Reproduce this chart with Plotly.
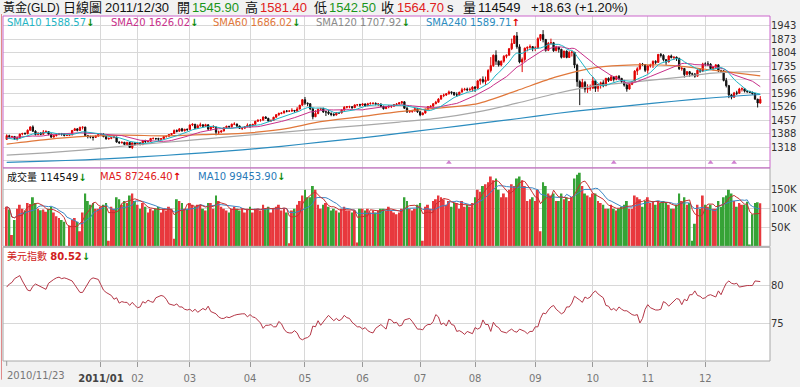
import plotly.graph_objects as go
import pandas as pd

# ---------------- DATA (gold, daily, 2010/11/23 - 2011/12/30, all weekdays) ----------------
pre_close = [1340, 1325, 1344, 1357, 1352, 1356, 1337, 1383, 1394, 1404,
             1393, 1400, 1408, 1367, 1366, 1338, 1338, 1353, 1352, 1359]

open_ = [
    1359, 1378, 1373, 1374, 1363, 1366,
    1386, 1389, 1388, 1406, 1423, 1401, 1384, 1391, 1385, 1397, 1399, 1386, 1371, 1378, 1384, 1388, 1387, 1379, 1380, 1382, 1405, 1413, 1405,
    1421, 1422, 1379, 1373, 1371, 1369, 1376, 1384, 1386, 1373, 1361, 1364, 1368, 1371, 1345, 1342, 1344, 1333, 1343, 1317, 1341,
    1333, 1340, 1333, 1353, 1348, 1349, 1364, 1364, 1363, 1360, 1362, 1374, 1375, 1384, 1389, 1404, 1401, 1413, 1403, 1411,
    1410, 1433, 1437, 1416, 1429, 1434, 1427, 1434, 1412, 1421, 1422, 1396, 1397, 1402, 1419, 1426, 1424, 1437, 1438, 1428, 1416, 1417, 1424,
    1432, 1429, 1437, 1452, 1458, 1458, 1474, 1467, 1453, 1457, 1473, 1486, 1492, 1495, 1505, 1504, 1505, 1508, 1505, 1515, 1535,
    1563, 1545, 1542, 1516, 1475, 1492, 1514, 1517, 1500, 1500, 1492, 1487, 1484, 1496, 1495, 1510, 1524, 1527, 1527, 1522, 1536, 1537,
    1536, 1541, 1532, 1542, 1544, 1544, 1540, 1541, 1529, 1517, 1526, 1530, 1530, 1538, 1541, 1547, 1552, 1519, 1500, 1502, 1507, 1517,
    1501, 1485, 1494, 1514, 1527, 1530, 1542, 1550, 1566, 1584, 1587, 1593, 1603, 1600, 1588, 1588, 1602, 1614, 1617, 1614, 1616,
    1628, 1622, 1660, 1667, 1656, 1663, 1713, 1738, 1792, 1761, 1741, 1761, 1786, 1792, 1825, 1852, 1891, 1835, 1757, 1770, 1828, 1833, 1836,
    1826, 1829, 1877, 1898, 1873, 1817, 1853, 1856, 1815, 1833, 1822, 1781, 1813, 1780, 1807, 1807, 1741, 1656, 1627, 1652, 1617, 1622,
    1622, 1660, 1621, 1641, 1650, 1635, 1673, 1662, 1680, 1668, 1683, 1673, 1656, 1638, 1618, 1642, 1656, 1710, 1722, 1746, 1744,
    1714, 1737, 1741, 1760, 1755, 1796, 1791, 1769, 1757, 1788, 1780, 1782, 1776, 1722, 1724, 1692, 1707, 1696, 1695, 1684, 1715, 1711,
    1747, 1746, 1746, 1723, 1732, 1742, 1712, 1711, 1662, 1635, 1588, 1576, 1598, 1596, 1618, 1619, 1607, 1606, 1600, 1595, 1566, 1545.9,
]
high = [
    1385, 1383, 1377, 1376, 1374, 1388,
    1393, 1395, 1410, 1426, 1431, 1406, 1395, 1396, 1407, 1406, 1400, 1389, 1383, 1390, 1392, 1392, 1390, 1382, 1387, 1407, 1418, 1416, 1424,
    1425, 1424, 1382, 1378, 1375, 1380, 1387, 1392, 1390, 1378, 1368, 1371, 1375, 1372, 1350, 1348, 1346, 1347, 1345, 1343, 1343,
    1345, 1345, 1356, 1357, 1354, 1366, 1368, 1366, 1367, 1366, 1376, 1378, 1386, 1391, 1410, 1410, 1416, 1418, 1413, 1414,
    1435, 1441, 1438, 1436, 1445, 1436, 1439, 1436, 1425, 1432, 1425, 1404, 1406, 1421, 1430, 1429, 1440, 1447, 1440, 1430, 1422, 1427, 1441,
    1438, 1438, 1454, 1461, 1463, 1477, 1478, 1470, 1460, 1475, 1488, 1497, 1498, 1506, 1509, 1508, 1519, 1510, 1525, 1536, 1566,
    1577, 1549, 1546, 1519, 1509, 1517, 1521, 1522, 1506, 1510, 1498, 1494, 1499, 1500, 1513, 1530, 1530, 1532, 1530, 1539, 1540, 1542,
    1544, 1544, 1547, 1550, 1550, 1549, 1545, 1543, 1532, 1530, 1534, 1535, 1540, 1546, 1550, 1556, 1555, 1525, 1510, 1511, 1520, 1518,
    1503, 1498, 1517, 1530, 1533, 1545, 1557, 1571, 1588, 1594, 1597, 1610, 1605, 1603, 1601, 1603, 1624, 1624, 1625, 1625, 1632,
    1633, 1662, 1672, 1683, 1682, 1720, 1782, 1795, 1817, 1765, 1764, 1792, 1795, 1829, 1877, 1894, 1911, 1848, 1780, 1831, 1835, 1847, 1839,
    1838, 1884, 1900, 1921, 1875, 1860, 1877, 1860, 1840, 1835, 1825, 1815, 1816, 1812, 1815, 1808, 1748, 1663, 1670, 1660, 1642, 1641,
    1680, 1665, 1643, 1656, 1663, 1675, 1678, 1690, 1684, 1686, 1690, 1674, 1665, 1645, 1645, 1660, 1715, 1730, 1752, 1752, 1746,
    1740, 1748, 1765, 1766, 1798, 1803, 1797, 1772, 1791, 1795, 1785, 1785, 1778, 1731, 1726, 1710, 1710, 1702, 1700, 1720, 1721, 1753,
    1755, 1761, 1751, 1735, 1746, 1745, 1717, 1716, 1675, 1639, 1592, 1603, 1609, 1624, 1626, 1623, 1611, 1608, 1605, 1597, 1567, 1581.4,
]
low = [
    1357, 1368, 1370, 1357, 1353, 1362,
    1380, 1383, 1385, 1403, 1398, 1379, 1380, 1380, 1384, 1393, 1380, 1366, 1368, 1374, 1380, 1378, 1374, 1376, 1376, 1380, 1402, 1400, 1403,
    1410, 1375, 1364, 1364, 1353, 1366, 1372, 1380, 1370, 1358, 1358, 1360, 1365, 1342, 1335, 1337, 1329, 1330, 1315, 1309, 1327,
    1330, 1328, 1329, 1340, 1342, 1346, 1358, 1355, 1351, 1356, 1360, 1368, 1372, 1380, 1387, 1395, 1398, 1398, 1400, 1402,
    1408, 1427, 1413, 1414, 1424, 1420, 1424, 1406, 1404, 1418, 1380, 1384, 1393, 1400, 1416, 1418, 1420, 1432, 1422, 1413, 1407, 1412, 1422,
    1418, 1425, 1432, 1450, 1450, 1455, 1464, 1448, 1450, 1455, 1470, 1480, 1488, 1492, 1498, 1501, 1500, 1497, 1500, 1513, 1532,
    1536, 1530, 1509, 1462, 1474, 1488, 1510, 1495, 1479, 1485, 1478, 1478, 1482, 1490, 1492, 1506, 1518, 1519, 1516, 1520, 1531, 1527,
    1530, 1526, 1530, 1538, 1538, 1534, 1530, 1525, 1512, 1515, 1519, 1520, 1526, 1533, 1538, 1540, 1515, 1495, 1496, 1496, 1500, 1495,
    1478, 1484, 1492, 1511, 1521, 1522, 1540, 1548, 1563, 1576, 1582, 1590, 1590, 1583, 1577, 1585, 1600, 1610, 1606, 1608, 1605,
    1603, 1618, 1640, 1647, 1639, 1660, 1703, 1732, 1742, 1733, 1735, 1753, 1776, 1790, 1818, 1850, 1825, 1750, 1705, 1758, 1812, 1825, 1812,
    1813, 1825, 1865, 1858, 1810, 1813, 1846, 1809, 1812, 1805, 1775, 1780, 1776, 1778, 1785, 1725, 1630, 1535, 1620, 1600, 1598, 1609,
    1620, 1603, 1604, 1620, 1627, 1633, 1654, 1660, 1656, 1663, 1665, 1649, 1630, 1604, 1615, 1638, 1654, 1690, 1715, 1737, 1705,
    1697, 1728, 1726, 1745, 1752, 1780, 1760, 1742, 1755, 1775, 1767, 1762, 1716, 1712, 1677, 1688, 1681, 1684, 1676, 1682, 1701, 1705,
    1735, 1736, 1716, 1714, 1722, 1705, 1702, 1657, 1626, 1571, 1565, 1572, 1587, 1594, 1605, 1600, 1597, 1597, 1588, 1562, 1523, 1542.5,
]
close = [
    1378, 1373, 1374, 1363, 1366, 1386,
    1389, 1388, 1406, 1423, 1401, 1384, 1391, 1385, 1397, 1399, 1386, 1371, 1378, 1384, 1388, 1387, 1379, 1380, 1382, 1405, 1413, 1405, 1421,
    1422, 1379, 1373, 1371, 1369, 1376, 1384, 1386, 1373, 1361, 1364, 1368, 1371, 1345, 1342, 1344, 1333, 1343, 1317, 1341, 1333,
    1340, 1333, 1353, 1348, 1349, 1364, 1364, 1363, 1360, 1362, 1374, 1375, 1384, 1389, 1404, 1401, 1413, 1403, 1411, 1410,
    1433, 1437, 1416, 1429, 1434, 1427, 1434, 1412, 1421, 1422, 1396, 1397, 1402, 1419, 1426, 1424, 1437, 1438, 1428, 1416, 1417, 1424, 1432,
    1429, 1437, 1452, 1458, 1458, 1474, 1467, 1453, 1457, 1473, 1486, 1492, 1495, 1505, 1504, 1505, 1508, 1505, 1515, 1535, 1563,
    1545, 1542, 1516, 1475, 1492, 1514, 1517, 1500, 1500, 1492, 1487, 1484, 1496, 1495, 1510, 1524, 1527, 1527, 1522, 1536, 1537, 1536,
    1541, 1532, 1542, 1544, 1544, 1540, 1541, 1529, 1517, 1526, 1530, 1530, 1538, 1541, 1547, 1552, 1519, 1500, 1502, 1507, 1517, 1501,
    1485, 1494, 1514, 1527, 1530, 1542, 1550, 1566, 1584, 1587, 1593, 1603, 1600, 1588, 1588, 1602, 1614, 1617, 1614, 1616, 1628,
    1622, 1660, 1667, 1656, 1663, 1713, 1738, 1792, 1761, 1741, 1761, 1786, 1792, 1825, 1852, 1891, 1835, 1757, 1770, 1828, 1833, 1836, 1826,
    1829, 1877, 1898, 1873, 1817, 1853, 1856, 1815, 1833, 1822, 1781, 1813, 1780, 1807, 1807, 1741, 1656, 1627, 1652, 1617, 1622, 1622,
    1660, 1621, 1641, 1650, 1635, 1673, 1662, 1680, 1668, 1683, 1673, 1656, 1638, 1618, 1642, 1656, 1710, 1722, 1746, 1744, 1714,
    1737, 1741, 1760, 1755, 1796, 1791, 1769, 1757, 1788, 1780, 1782, 1776, 1722, 1724, 1692, 1707, 1696, 1695, 1684, 1715, 1711, 1747,
    1746, 1746, 1723, 1732, 1742, 1712, 1711, 1662, 1635, 1588, 1576, 1598, 1596, 1618, 1619, 1607, 1606, 1600, 1595, 1566, 1546.07, 1564.7,
]
volume_k = [
    105, 98, 30, 70, 100, 110,
    100, 95, 115, 112, 130, 115, 100, 96, 98, 92, 100, 105, 90, 80, 75, 70, 65, 0, 55, 70, 75, 65, 40,
    90, 140, 120, 110, 115, 100, 100, 105, 110, 115, 15, 105, 100, 130, 125, 110, 120, 115, 135, 140, 120,
    110, 100, 115, 105, 90, 100, 95, 100, 105, 90, 100, 95, 105, 100, 20, 125, 120, 115, 100, 100,
    115, 110, 105, 110, 110, 100, 95, 115, 115, 100, 135, 120, 105, 100, 95, 90, 100, 105, 100, 95, 100, 90, 100,
    105, 90, 100, 100, 95, 110, 100, 105, 90, 100, 105, 110, 95, 100, 90, 8, 95, 100, 110, 120, 135,
    150, 130, 130, 160, 150, 110, 100, 110, 115, 105, 95, 100, 95, 90, 100, 105, 95, 95, 90, 95, 10, 100,
    100, 95, 100, 90, 95, 90, 95, 100, 100, 95, 105, 95, 90, 85, 90, 100, 130, 120, 100, 95, 100, 110,
    115, 15, 105, 110, 100, 120, 125, 135, 130, 125, 110, 120, 105, 115, 115, 100, 120, 105, 110, 105, 115,
    130, 150, 145, 160, 165, 170, 185, 175, 180, 150, 130, 140, 130, 150, 165, 160, 180, 185, 175, 160, 120, 125, 130,
    120, 150, 40, 170, 160, 140, 135, 140, 120, 120, 140, 125, 130, 120, 130, 180, 190, 195, 160, 140, 135, 130,
    140, 140, 120, 115, 110, 100, 100, 110, 100, 95, 100, 105, 110, 120, 100, 100, 135, 130, 125, 105, 120,
    130, 115, 120, 110, 120, 115, 120, 115, 110, 100, 100, 110, 140, 120, 130, 110, 115, 15, 60, 110, 100, 135,
    110, 105, 110, 100, 100, 120, 105, 130, 135, 150, 140, 120, 105, 115, 110, 110, 118, 5, 85, 115, 117, 114.549,
]
dollar_index = [
    79.8, 80.2, 80.4, 80.9, 81.1, 81.3,
    80.6, 80.0, 79.4, 79.3, 79.9, 80.2, 80.0, 79.9, 79.6, 79.5, 80.3, 80.6, 80.8, 81.0, 81.1, 80.9, 81.0, 80.9, 80.8, 80.6, 80.1, 79.6, 79.1,
    79.1, 79.7, 80.3, 80.8, 81.0, 80.9, 80.8, 80.1, 79.4, 79.1, 78.9, 78.7, 78.2, 78.4, 77.7, 77.9, 77.8, 77.8, 77.4, 77.8, 77.4,
    77.1, 77.2, 77.9, 77.7, 78.1, 77.9, 77.8, 78.4, 78.5, 78.7, 78.6, 78.2, 77.6, 77.5, 77.4, 77.6, 77.2, 77.2, 76.9, 76.8,
    76.9, 76.6, 76.9, 76.5, 76.8, 77.0, 76.8, 77.3, 76.6, 76.4, 76.3, 75.9, 75.7, 75.7, 75.9, 75.8, 76.0, 76.1, 76.2, 76.3, 76.3, 76.3, 75.9,
    76.2, 75.9, 75.8, 75.5, 75.1, 74.4, 74.8, 74.8, 74.9, 74.6, 74.6, 75.3, 75.0, 74.3, 73.9, 73.8, 73.8, 74.1, 73.8, 73.1, 72.9,
    73.1, 73.2, 73.5, 74.7, 74.6, 75.4, 74.8, 75.3, 75.7, 76.1, 75.8, 75.4, 75.7, 75.4, 75.6, 76.1, 75.8, 75.7, 75.2, 74.9, 74.6, 74.6,
    74.3, 74.5, 74.1, 73.9, 73.8, 74.4, 74.6, 74.9, 74.6, 74.3, 75.6, 75.5, 75.1, 75.2, 74.7, 74.8, 75.5, 75.6, 75.7, 75.3, 74.8, 74.3,
    74.3, 74.2, 74.7, 74.9, 74.9, 75.3, 76.2, 75.9, 74.9, 75.1, 74.7, 75.5, 74.9, 74.8, 74.0, 74.1, 73.9, 73.6, 74.0, 73.9, 73.7,
    74.5, 74.3, 74.5, 75.5, 74.9, 74.9, 74.0, 75.2, 74.7, 74.5, 74.0, 73.9, 73.8, 74.1, 74.3, 74.0, 73.9, 74.3, 74.2, 74.0, 73.7, 74.0, 74.0,
    74.6, 74.6, 75.7, 76.4, 76.3, 76.8, 77.2, 77.4, 76.9, 76.6, 76.3, 76.5, 77.2, 77.2, 77.7, 78.6, 78.4, 78.1, 77.8, 78.5, 78.3, 78.5,
    79.0, 79.3, 78.9, 78.6, 78.4, 77.4, 77.3, 76.8, 77.0, 76.7, 77.2, 76.9, 76.7, 76.7, 76.4, 76.2, 76.1, 76.2, 75.1, 75.7, 76.9,
    77.5, 77.1, 76.9, 76.8, 76.8, 76.9, 77.9, 77.7, 77.3, 77.6, 78.0, 78.3, 78.2, 77.5, 78.2, 78.0, 78.8, 78.8, 79.3, 78.7, 78.6, 78.3,
    78.4, 78.7, 78.8, 78.6, 78.5, 79.3, 78.8, 79.6, 80.3, 80.6, 80.3, 80.2, 80.3, 79.8, 79.9, 79.9, 80.0, 80.0, 80.0, 80.6, 80.6, 80.52,
]

# long moving averages (trading-day index, value)
long_ma_idx = [0, 15, 30, 45, 60, 75, 90, 105, 120, 135, 150, 165, 180, 195, 210, 225, 240, 255, 270, 288]
sma60_vals = [1335, 1358, 1374, 1381, 1377, 1383, 1390, 1410, 1450, 1475, 1502, 1520, 1543, 1610, 1680, 1728, 1742, 1738, 1715, 1686.02]
sma120_vals = [1278, 1290, 1305, 1325, 1343, 1360, 1378, 1395, 1413, 1430, 1448, 1468, 1500, 1545, 1595, 1635, 1655, 1675, 1700, 1707.92]
sma240_vals = [1241, 1247, 1254, 1264, 1276, 1290, 1305, 1323, 1345, 1365, 1390, 1415, 1440, 1465, 1492, 1515, 1535, 1555, 1573, 1589.71]

event_idx = [169, 232, 269, 278]

month_tick_idx = [36, 50, 70, 93, 114, 136, 158, 179, 202, 224, 245, 267]
month_tick_text = ["2011/01", "02", "03", "04", "05", "06", "07", "08", "09", "10", "11", "12"]
first_date_label = "2010/11/23"

price_tick_vals = [1249.0, 1318.0, 1387.4, 1456.9, 1526.3, 1595.8, 1665.2, 1734.7, 1804.1, 1873.6, 1943.0]
price_tick_text = ["", "1318", "1388", "1457", "1526", "1596", "1665", "1735", "1804", "1873", "1943"]
vol_tick_vals = [50, 100, 150]
vol_tick_text = ["50K", "100K", "150K"]
dx_tick_vals = [75, 80]
dx_tick_text = ["75", "80"]

# header / legend values
hdr_name, hdr_kind, hdr_date = "黃金(GLD)", "日線圖", "2011/12/30"
hdr_open, hdr_high, hdr_low, hdr_close = 1545.90, 1581.40, 1542.50, 1564.70
hdr_vol, hdr_chg, hdr_pct = 114549, 18.63, 1.20
sma_legend = [("SMA10", 1588.57, "dn"), ("SMA20", 1626.02, "dn"), ("SMA60", 1686.02, "dn"),
              ("SMA120", 1707.92, "dn"), ("SMA240", 1589.71, "up")]
vol_legend = [("成交量", "114549", "dn"), ("MA5", "87246.40", "up"), ("MA10", "99453.90", "dn")]
dx_legend = ("美元指數", "80.52", "dn")

# ---------------- derived ----------------
N = len(close)
assert all(len(a) == N for a in [open_, high, low, volume_k, dollar_index])
x = list(range(N))
full_close = pd.Series(pre_close + close)
sma10 = full_close.rolling(10).mean().tolist()[len(pre_close):]
sma20 = full_close.rolling(20).mean().tolist()[len(pre_close):]
vs = pd.Series(volume_k)
vma5 = vs.rolling(5, min_periods=1).mean().tolist()
vma10 = vs.rolling(10, min_periods=1).mean().tolist()

# ---------------- layout geometry ----------------
W, H = 800, 387
ML, MR, MT, MB = 3, 29, 16, 19
PW, PH = W - ML - MR, H - MT - MB


def pxx(px):
    return (px - ML) / PW


def pxy(py):
    return (H - MB - py) / PH


X_RANGE = [-1.41, 291.72]
DOM_MAIN = [pxy(171), 1.0]
DOM_VOL = [pxy(251), pxy(171)]
DOM_DX = [0.0, pxy(252)]

C_SMA10, C_SMA20, C_SMA60, C_SMA120, C_SMA240 = "#1fb5c5", "#c8308a", "#e0773a", "#a8a8a8", "#2b8cbf"
C_UP, C_DN = "#e00000", "#111111"
C_VUP, C_VDN = "#e8383d", "#36a336"
C_ARR_UP, C_ARR_DN = "#e00000", "#0a8a0a"
GRID = "#d8d8d8"
FONT = "DejaVu Sans"
CJK = "Noto Sans CJK TC"

fig = go.Figure()

fig.add_trace(go.Candlestick(
    x=x, open=open_, high=high, low=low, close=close,
    increasing=dict(line=dict(color=C_UP, width=1), fillcolor=C_UP),
    decreasing=dict(line=dict(color=C_DN, width=1), fillcolor=C_DN),
    whiskerwidth=0, xaxis="x", yaxis="y", showlegend=False, hoverinfo="skip"))

for vals, col in [(sma240_vals, C_SMA240), (sma120_vals, C_SMA120), (sma60_vals, C_SMA60)]:
    fig.add_trace(go.Scatter(x=long_ma_idx, y=vals, mode="lines",
                             line=dict(color=col, width=1.2, shape="spline", smoothing=0.7),
                             xaxis="x", yaxis="y", showlegend=False, hoverinfo="skip"))
for vals, col in [(sma20, C_SMA20), (sma10, C_SMA10)]:
    fig.add_trace(go.Scatter(x=x, y=vals, mode="lines", line=dict(color=col, width=1),
                             xaxis="x", yaxis="y", showlegend=False, hoverinfo="skip"))

fig.add_trace(go.Scatter(x=event_idx, y=[1240] * len(event_idx), mode="markers",
                         marker=dict(symbol="triangle-up", size=5, color="#d080d0"),
                         xaxis="x", yaxis="y", showlegend=False, hoverinfo="skip"))

vcol = [C_VUP if c >= o else C_VDN for o, c in zip(open_, close)]
fig.add_trace(go.Bar(x=x, y=volume_k, marker=dict(color=vcol, line=dict(width=0)),
                     xaxis="x2", yaxis="y2", showlegend=False, hoverinfo="skip"))
fig.add_trace(go.Scatter(x=x, y=vma10, mode="lines", line=dict(color="#3a86c4", width=1),
                         xaxis="x2", yaxis="y2", showlegend=False, hoverinfo="skip"))
fig.add_trace(go.Scatter(x=x, y=vma5, mode="lines", line=dict(color="#c83030", width=1),
                         xaxis="x2", yaxis="y2", showlegend=False, hoverinfo="skip"))

fig.add_trace(go.Scatter(x=x, y=dollar_index, mode="lines", line=dict(color="#b43646", width=1),
                         xaxis="x3", yaxis="y3", showlegend=False, hoverinfo="skip"))

xcommon = dict(range=X_RANGE, domain=[0, 1], tickmode="array", tickvals=month_tick_idx,
               showgrid=True, gridcolor=GRID, gridwidth=1, zeroline=False, showline=False,
               fixedrange=True)
ycommon = dict(side="right", showgrid=True, gridcolor=GRID, gridwidth=1, zeroline=False,
               showline=False, ticks="", tickfont=dict(family=FONT, size=10, color="#333333"),
               tickmode="array", fixedrange=True)

tick_text_fmt = ["<b><span style='color:#444'>%s</span></b>" % t if "/" in t else t for t in month_tick_text]

fig.update_layout(
    width=W, height=H, margin=dict(l=ML, r=MR, t=MT, b=MB),
    paper_bgcolor="#f2f2f2", plot_bgcolor="#ffffff",
    bargap=0.25,
    xaxis=dict(**xcommon, anchor="y", showticklabels=False, ticks="", rangeslider=dict(visible=False)),
    xaxis2=dict(**xcommon, anchor="y2", showticklabels=False, ticks=""),
    xaxis3=dict(**xcommon, anchor="y3", showticklabels=True, ticktext=tick_text_fmt,
                ticks="outside", ticklen=5, tickcolor="#999999", ticklabelstandoff=3,
                tickfont=dict(family=FONT, size=10, color="#777777")),
    yaxis=dict(**ycommon, domain=DOM_MAIN, anchor="x", range=[1212.2, 1993.4],
               tickvals=price_tick_vals, ticktext=price_tick_text),
    yaxis2=dict(**ycommon, domain=DOM_VOL, anchor="x2", range=[0, 208],
                tickvals=vol_tick_vals, ticktext=vol_tick_text),
    yaxis3=dict(**ycommon, domain=DOM_DX, anchor="x3", range=[70.13, 85.0],
                tickvals=dx_tick_vals, ticktext=dx_tick_text),
)

shapes = [
    dict(type="rect", xref="paper", yref="paper", x0=0, x1=1, y0=DOM_DX[0], y1=DOM_DX[1],
         line=dict(color="#a8a8a8", width=1)),
    dict(type="rect", xref="paper", yref="paper", x0=0, x1=1, y0=DOM_VOL[0], y1=DOM_VOL[1],
         line=dict(color="#a8a8a8", width=1)),
    dict(type="rect", xref="paper", yref="paper", x0=0, x1=1, y0=DOM_MAIN[0], y1=DOM_MAIN[1],
         line=dict(color="#cc66cc", width=1)),
    dict(type="line", xref="paper", yref="paper", x0=pxx(1.5), x1=pxx(1.5), y0=pxy(H), y1=pxy(14),
         line=dict(color="#e08a8a", width=1)),
    dict(type="line", xref="x3", yref="paper", x0=0, x1=0, y0=0, y1=pxy(373),
         line=dict(color="#999999", width=1)),
]
fig.update_layout(shapes=shapes)


def ann(px, py, text, size=10, color="#000000", family=FONT):
    return dict(x=pxx(px), y=pxy(py), xref="paper", yref="paper", text=text, showarrow=False,
                xanchor="left", yanchor="middle", font=dict(size=size, color=color, family=family))


def arrow(d):
    return "<b><span style='color:%s'>%s</span></b>" % ((C_ARR_UP, "↑") if d == "up" else (C_ARR_DN, "↓"))


HF = "Liberation Sans, " + CJK
G, R, K = "#1a951a", "#e02020", "#111111"
anns = [
    ann(1, 7, hdr_name, 12, K, HF),
    ann(61, 7, hdr_kind, 13, K, HF),
    ann(103, 7, hdr_date, 13, K, HF),
    ann(175, 7, "開", 13, K, HF), ann(190, 7, "%.2f" % hdr_open, 13, G, HF),
    ann(243, 7, "高", 13, K, HF), ann(258, 7, "%.2f" % hdr_high, 13, R, HF),
    ann(312, 7, "低", 13, K, HF), ann(327, 7, "%.2f" % hdr_low, 13, G, HF),
    ann(379, 7, "收", 13, K, HF), ann(396, 7, "%.2f" % hdr_close, 13, R, HF),
    ann(446, 7, "s", 13, K, HF),
    ann(462, 7, "量", 13, K, HF), ann(477, 7, str(hdr_vol), 13, K, HF),
    ann(530, 7, "+%.2f (+%.2f%%)" % (hdr_chg, hdr_pct), 13, K, HF),
]
sma_cols = [C_SMA10, C_SMA20, C_SMA60, "#8a8a8a", C_SMA240]
sma_x = [5, 109, 211, 314, 425]
for (name, val, d), col, px in zip(sma_legend, sma_cols, sma_x):
    anns.append(ann(px, 23, "<span style='color:%s'>%s %.2f</span>%s" % (col, name, val, arrow(d))))
vol_cols = ["#111111", "#e02020", "#2a7ab8"]
vol_x = [5, 98, 196]
for (name, val, d), col, px in zip(vol_legend, vol_cols, vol_x):
    anns.append(ann(px, 180, "<span style='color:%s'>%s %s</span>%s" % (col, name, val, arrow(d)),
                    10, "#000", FONT + ", " + CJK))
anns.append(ann(5, 261, "<span style='color:#d02020'>%s <b>%s</b></span>%s" % (dx_legend[0], dx_legend[1], arrow(dx_legend[2])),
                10, "#000", FONT + ", " + CJK))
anns.append(dict(x=0, y=pxy(376), xref="x3", yref="paper", text=first_date_label, showarrow=False,
                 xanchor="left", yanchor="top", xshift=-1, borderpad=0,
                 font=dict(size=10, color="#777777", family=FONT)))
fig.update_layout(annotations=anns)

fig.write_html("out.html", config={"displayModeBar": False},
               post_script="document.body.style.margin='0px';document.body.style.overflow='hidden';")
